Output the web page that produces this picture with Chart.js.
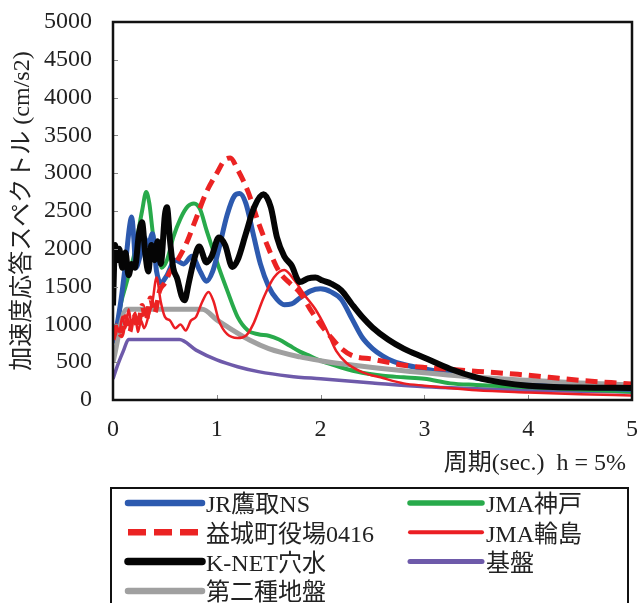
<!DOCTYPE html>
<html lang="ja">
<head>
<meta charset="UTF-8">
<title>加速度応答スペクトル</title>
<script src="https://cdn.jsdelivr.net/npm/chart.js"></script>
<style>
  body { margin: 0; background: #fff; }
  .marco { width: 638px; height: 603px; position: relative; }
</style>
</head>
<body>
<div class="marco"><canvas id="espectro"></canvas></div>

<script>
// ---- datos (周期 T [s], 加速度 [cm/s2]) ----
const seriesNames = ['JR鷹取NS', 'JMA神戸', '益城町役場0416', 'JMA輪島', 'K-NET穴水', '基盤', '第二種地盤'];
const xTickValues = [0, 1, 2, 3, 4, 5];
const yMax = 5000;
const yStep = 500;

const tTakatori = [0, 0.04, 0.08, 0.12, 0.16, 0.18, 0.2, 0.22, 0.26, 0.3, 0.34, 0.38, 0.42, 0.46, 0.52, 0.6, 0.68, 0.76, 0.84, 0.9, 0.96, 1.02, 1.1, 1.17, 1.22, 1.28, 1.35, 1.42, 1.5, 1.58, 1.65, 1.72, 1.8, 1.9, 2.0, 2.1, 2.2, 2.3, 2.4, 2.5, 2.6, 2.7, 2.8, 3.0, 3.25, 3.5, 3.75, 4.0, 4.5, 5.0];
const aTakatori = [750, 1000, 1350, 1800, 2300, 2420, 2150, 1750, 1900, 2150, 2050, 2200, 1700, 1550, 1650, 1850, 1800, 1900, 1700, 1570, 1700, 2000, 2450, 2700, 2730, 2600, 2200, 1800, 1500, 1330, 1260, 1270, 1350, 1440, 1470, 1430, 1330, 1080, 830, 680, 580, 510, 470, 410, 350, 290, 240, 210, 170, 140];

const tKobe = [0, 0.04, 0.08, 0.12, 0.16, 0.2, 0.24, 0.28, 0.32, 0.35, 0.39, 0.43, 0.47, 0.52, 0.58, 0.65, 0.72, 0.78, 0.84, 0.9, 0.96, 1.02, 1.1, 1.2, 1.3, 1.4, 1.5, 1.6, 1.7, 1.8, 1.9, 2.0, 2.2, 2.4, 2.6, 2.8, 3.0, 3.25, 3.5, 4.0, 4.5, 5.0];
const aKobe = [850, 1000, 1300, 1500, 1700, 1900, 2200, 2500, 2750, 2600, 2150, 2000, 1750, 1850, 2150, 2400, 2560, 2600, 2520, 2250, 2000, 1750, 1450, 1100, 920, 870, 850, 800, 720, 640, 580, 520, 430, 360, 320, 300, 280, 220, 200, 170, 140, 110];

const tMashiki = [0, 0.04, 0.08, 0.12, 0.16, 0.2, 0.24, 0.28, 0.32, 0.36, 0.4, 0.45, 0.5, 0.55, 0.6, 0.7, 0.8, 0.9, 1.0, 1.08, 1.13, 1.2, 1.3, 1.4, 1.5, 1.6, 1.7, 1.8, 1.9, 2.0, 2.1, 2.2, 2.3, 2.5, 2.8, 3.0, 3.3, 3.6, 3.9, 4.2, 4.5, 4.8, 5.0];
const aMashiki = [800, 950, 850, 1100, 900, 1150, 950, 1250, 1050, 1350, 1150, 1450, 1550, 1700, 1800, 2050, 2400, 2750, 3000, 3180, 3200, 3050, 2760, 2350, 2000, 1700, 1550, 1420, 1200, 1000, 830, 680, 590, 540, 460, 430, 400, 370, 340, 300, 260, 230, 210];

const tWajima = [0, 0.03, 0.06, 0.09, 0.12, 0.15, 0.18, 0.21, 0.24, 0.27, 0.3, 0.34, 0.38, 0.42, 0.46, 0.5, 0.55, 0.6, 0.65, 0.7, 0.75, 0.8, 0.86, 0.92, 0.97, 1.02, 1.1, 1.2, 1.28, 1.35, 1.45, 1.55, 1.65, 1.75, 1.85, 1.95, 2.05, 2.15, 2.25, 2.4, 2.6, 2.8, 3.0, 3.5, 4.0, 4.5, 5.0];
const aWajima = [850, 1000, 900, 1100, 950, 1200, 1000, 1150, 900, 1050, 950, 1100, 1300, 1620, 1300, 1100, 1050, 950, 1000, 920, 1050, 1100, 1300, 1430, 1300, 1050, 870, 820, 850, 1000, 1350, 1620, 1720, 1580, 1380, 1200, 950, 650, 490, 370, 290, 220, 190, 130, 100, 75, 60];

const tAnamizu = [0, 0.02, 0.04, 0.06, 0.09, 0.12, 0.15, 0.18, 0.21, 0.25, 0.28, 0.31, 0.34, 0.37, 0.4, 0.43, 0.46, 0.5, 0.52, 0.55, 0.58, 0.62, 0.66, 0.69, 0.73, 0.78, 0.83, 0.9, 0.95, 1.02, 1.08, 1.15, 1.2, 1.28, 1.36, 1.45, 1.52, 1.58, 1.65, 1.72, 1.8, 1.88, 1.95, 2.02, 2.1, 2.2, 2.3, 2.4, 2.5, 2.65, 2.8, 3.0, 3.25, 3.5, 3.75, 4.0, 4.5, 5.0];
const aAnamizu = [1250, 2050, 1850, 2000, 1750, 1950, 1650, 1800, 1750, 2200, 2350, 1950, 1700, 2050, 1850, 2100, 1800, 2450, 2550, 2100, 1750, 1600, 1380, 1320, 1550, 1850, 2030, 1820, 1900, 2150, 2050, 1760, 1850, 2200, 2550, 2720, 2550, 2150, 1900, 1780, 1560, 1610, 1620, 1580, 1540, 1450, 1270, 1100, 960, 800, 680, 560, 410, 300, 230, 190, 165, 160];

const tKiban = [0, 0.05, 0.1, 0.15, 0.64, 0.8, 1.0, 1.2, 1.4, 1.7, 2.0, 2.5, 3.0, 3.5, 4.0, 4.5, 5.0];
const aKiban = [280, 480, 650, 800, 800, 660, 530, 440, 375, 315, 280, 225, 175, 150, 130, 115, 105];

const tDaini = [0, 0.13, 0.86, 1.0, 1.1, 1.32, 1.5, 1.8, 2.0, 2.2, 2.5, 3.0, 3.5, 4.0, 4.5, 5.0];
const aDaini = [500, 1200, 1200, 1060, 970, 790, 680, 570, 520, 480, 430, 360, 300, 260, 225, 200];

function pares(ts, vs) {
  return ts.map((t, i) => ({ x: t, y: vs[i] }));
}

const fuente = "'Liberation Serif', 'Noto Sans CJK JP', serif";

// ticks hacia dentro + marco negro
const marcoPlot = {
  id: 'marcoPlot',
  afterDatasetsDraw(chart) {
    const { ctx, chartArea: a, scales: { x, y } } = chart;
    ctx.save();
    ctx.strokeStyle = '#888';
    ctx.lineWidth = 1;
    ctx.beginPath();
    y.ticks.forEach(t => {
      const py = Math.round(y.getPixelForValue(t.value)) + 0.5;
      ctx.moveTo(a.left, py);
      ctx.lineTo(a.left + 5, py);
    });
    x.ticks.forEach(t => {
      const px = Math.round(x.getPixelForValue(t.value)) + 0.5;
      ctx.moveTo(px, a.bottom);
      ctx.lineTo(px, a.bottom - 5);
    });
    ctx.stroke();
    ctx.strokeStyle = '#111';
    ctx.lineWidth = 2.5;
    ctx.strokeRect(a.left, a.top, a.width, a.height);
    ctx.restore();
  }
};

// leyenda en dos columnas con recuadro
const leyenda = {
  id: 'leyenda',
  afterDraw(chart) {
    const ctx = chart.ctx;
    ctx.save();
    ctx.strokeStyle = '#111';
    ctx.lineWidth = 2;
    ctx.strokeRect(111, 488, 517, 130);
    ctx.font = '24px ' + fuente;
    ctx.fillStyle = '#222';
    ctx.textBaseline = 'middle';
    const cols = [{ x0: 128, x1: 202, tx: 206 }, { x0: 410, x1: 482, tx: 486 }];
    chart.data.datasets.forEach((ds, i) => {
      const c = cols[i % 2];
      const yy = 503 + Math.floor(i / 2) * 29.3;
      ctx.beginPath();
      ctx.strokeStyle = ds.borderColor;
      ctx.lineWidth = ds.borderWidth + 1.5;
      ctx.setLineDash(ds.borderDash ? [18, 8] : []);
      ctx.lineCap = ds.borderDash ? 'butt' : 'round';
      ctx.moveTo(c.x0, yy);
      ctx.lineTo(c.x1, yy);
      ctx.stroke();
      ctx.setLineDash([]);
      ctx.fillText(ds.label, c.tx, yy + 3);
    });
    ctx.restore();
  }
};

const linea = (label, ts, vs, color, ancho, orden, extra) => Object.assign({
  label: label,
  data: pares(ts, vs),
  borderColor: color,
  borderWidth: ancho,
  pointRadius: 0,
  fill: false,
  cubicInterpolationMode: 'monotone',
  order: orden
}, extra || {});

const datasets = [
  linea(seriesNames[0], tTakatori, aTakatori, 'rgb(45, 90, 175)', 5, 4),
  linea(seriesNames[1], tKobe, aKobe, 'rgb(40, 170, 75)', 4, 5),
  linea(seriesNames[2], tMashiki, aMashiki, 'rgb(235, 35, 35)', 5, 1, { borderDash: [12, 7] }),
  linea(seriesNames[3], tWajima, aWajima, 'rgb(235, 30, 35)', 2.5, 2),
  linea(seriesNames[4], tAnamizu, aAnamizu, 'rgb(5, 5, 5)', 6, 0),
  linea(seriesNames[5], tKiban, aKiban, 'rgb(110, 90, 170)', 3.5, 6),
  linea(seriesNames[6], tDaini, aDaini, 'rgb(160, 160, 160)', 5, 3)
];

new Chart(document.getElementById('espectro'), {
  type: 'line',
  data: { datasets: datasets },
  options: {
    responsive: true,
    maintainAspectRatio: false,
    animation: false,
    layout: { padding: { top: 22, right: 5, left: 0, bottom: 0 } },
    plugins: {
      legend: { display: false },
      tooltip: { enabled: false }
    },
    scales: {
      x: {
        type: 'linear',
        min: 0,
        max: 5,
        afterFit(s) { s.height = 203; },
        afterBuildTicks(s) { s.ticks = xTickValues.map(v => ({ value: v })); },
        ticks: { font: { family: fuente, size: 24 }, color: '#222', padding: 0, maxRotation: 0 },
        // la separación de las etiquetas va en tickLength (no se dibuja la rejilla)
        grid: { display: false, drawTicks: true, tickLength: 15 },
        border: { display: false },
        title: {
          display: true,
          text: '周期(sec.)  h = 5% ',
          align: 'end',
          color: '#222',
          font: { family: fuente, size: 24 },
          padding: { top: 0, bottom: 125 }
        }
      },
      y: {
        min: 0,
        max: yMax,
        afterFit(s) { s.width = 113; },
        ticks: {
          stepSize: yStep,
          font: { family: fuente, size: 24 },
          color: '#222',
          padding: 0,
          callback: v => String(v)
        },
        grid: { display: false, drawTicks: true, tickLength: 21 },
        border: { display: false },
        title: {
          display: true,
          text: '加速度応答スペクトル (cm/s2)',
          color: '#222',
          font: { family: fuente, size: 24 },
          padding: { top: 8, bottom: 0 }
        }
      }
    }
  },
  plugins: [marcoPlot, leyenda]
});
</script>
</body>
</html>
